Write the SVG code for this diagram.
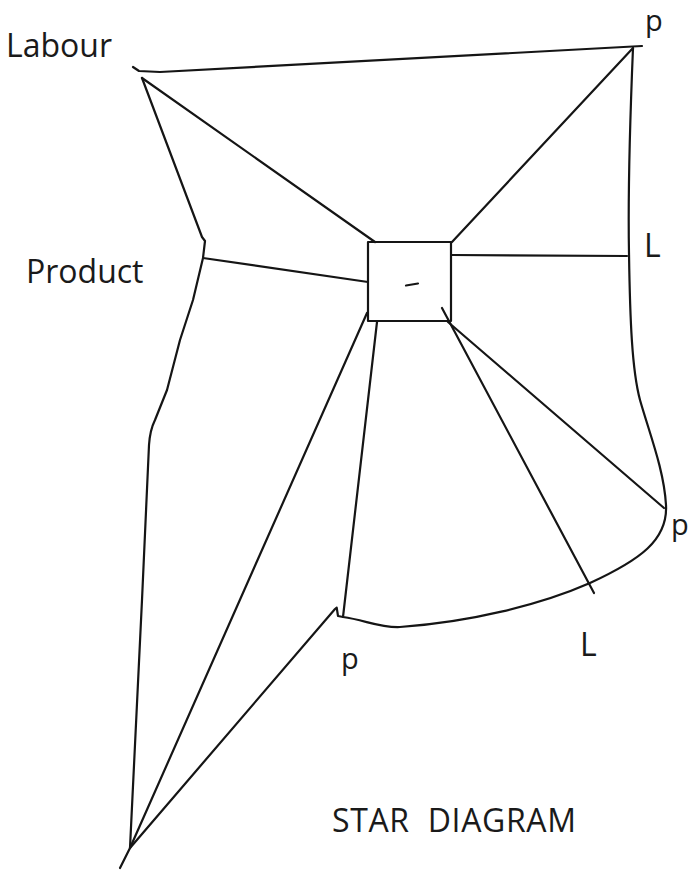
<svg xmlns="http://www.w3.org/2000/svg" width="689" height="871" viewBox="0 0 689 871">
<style>
.ln{fill:none;stroke:#151515;stroke-width:2.2;stroke-linecap:round;stroke-linejoin:round}
.lbl{font-family:"Open Sans","Noto Sans","Liberation Sans",sans-serif;font-size:32px;fill:#1a1a1a}
.sm{font-size:29px}
</style>
<rect width="689" height="871" fill="#ffffff"/>
<g id="outline">
<path class="ln" d="M133,67 L139,71 L160,72 L642,46"/>
<path class="ln" d="M633,48 C630,120 628,200 629,253 C630,320 632,370 640,400 C650,435 664,470 666,505 C668,540 640,560 590,583 C540,605 470,622 400,627 C380,628 365,620 343,617 L338,616 L336.7,607.7 L335,609 L130,848 L120,868"/>
<path class="ln" d="M142,78 L202,237 L205,241 L203,258 L193,300 L180,340 L167,390 L155,420 Q150,430 149,445 L142,600 L130,848"/>
</g>
<g id="center-box">
<rect x="368" y="242" width="83" height="79" class="ln" stroke-width="2.5"/>
<path class="ln" d="M406,285.5 L418,283.5" stroke-width="2.5"/>
</g>
<g id="connectors">
<path class="ln" d="M375,242 L142,78"/>
<path class="ln" d="M452,242 L633,48"/>
<path class="ln" d="M452,255 L627,256"/>
<path class="ln" d="M368,282 L203,258"/>
<path class="ln" d="M367,313 L130,848"/>
<path class="ln" d="M377,322 L343,617"/>
<path class="ln" d="M442,308 L594,593"/>
<path class="ln" d="M448,322 L664,508"/>
</g>
<g id="label-labour"><text class="lbl" x="6" y="57">Labour</text></g>
<g id="label-product"><text class="lbl" x="26" y="283">Product</text></g>
<g id="label-p-top"><text class="lbl sm" x="645" y="31">p</text></g>
<g id="label-l-right"><text class="lbl" x="644" y="257">L</text></g>
<g id="label-p-right"><text class="lbl sm" x="671" y="535">p</text></g>
<g id="label-p-bottom"><text class="lbl sm" x="341" y="669">p</text></g>
<g id="label-l-bottom"><text class="lbl" x="580" y="656">L</text></g>
<g id="title"><text class="lbl" x="332" y="832" textLength="244" lengthAdjust="spacing" xml:space="preserve">STAR  DIAGRAM</text></g>
</svg>
